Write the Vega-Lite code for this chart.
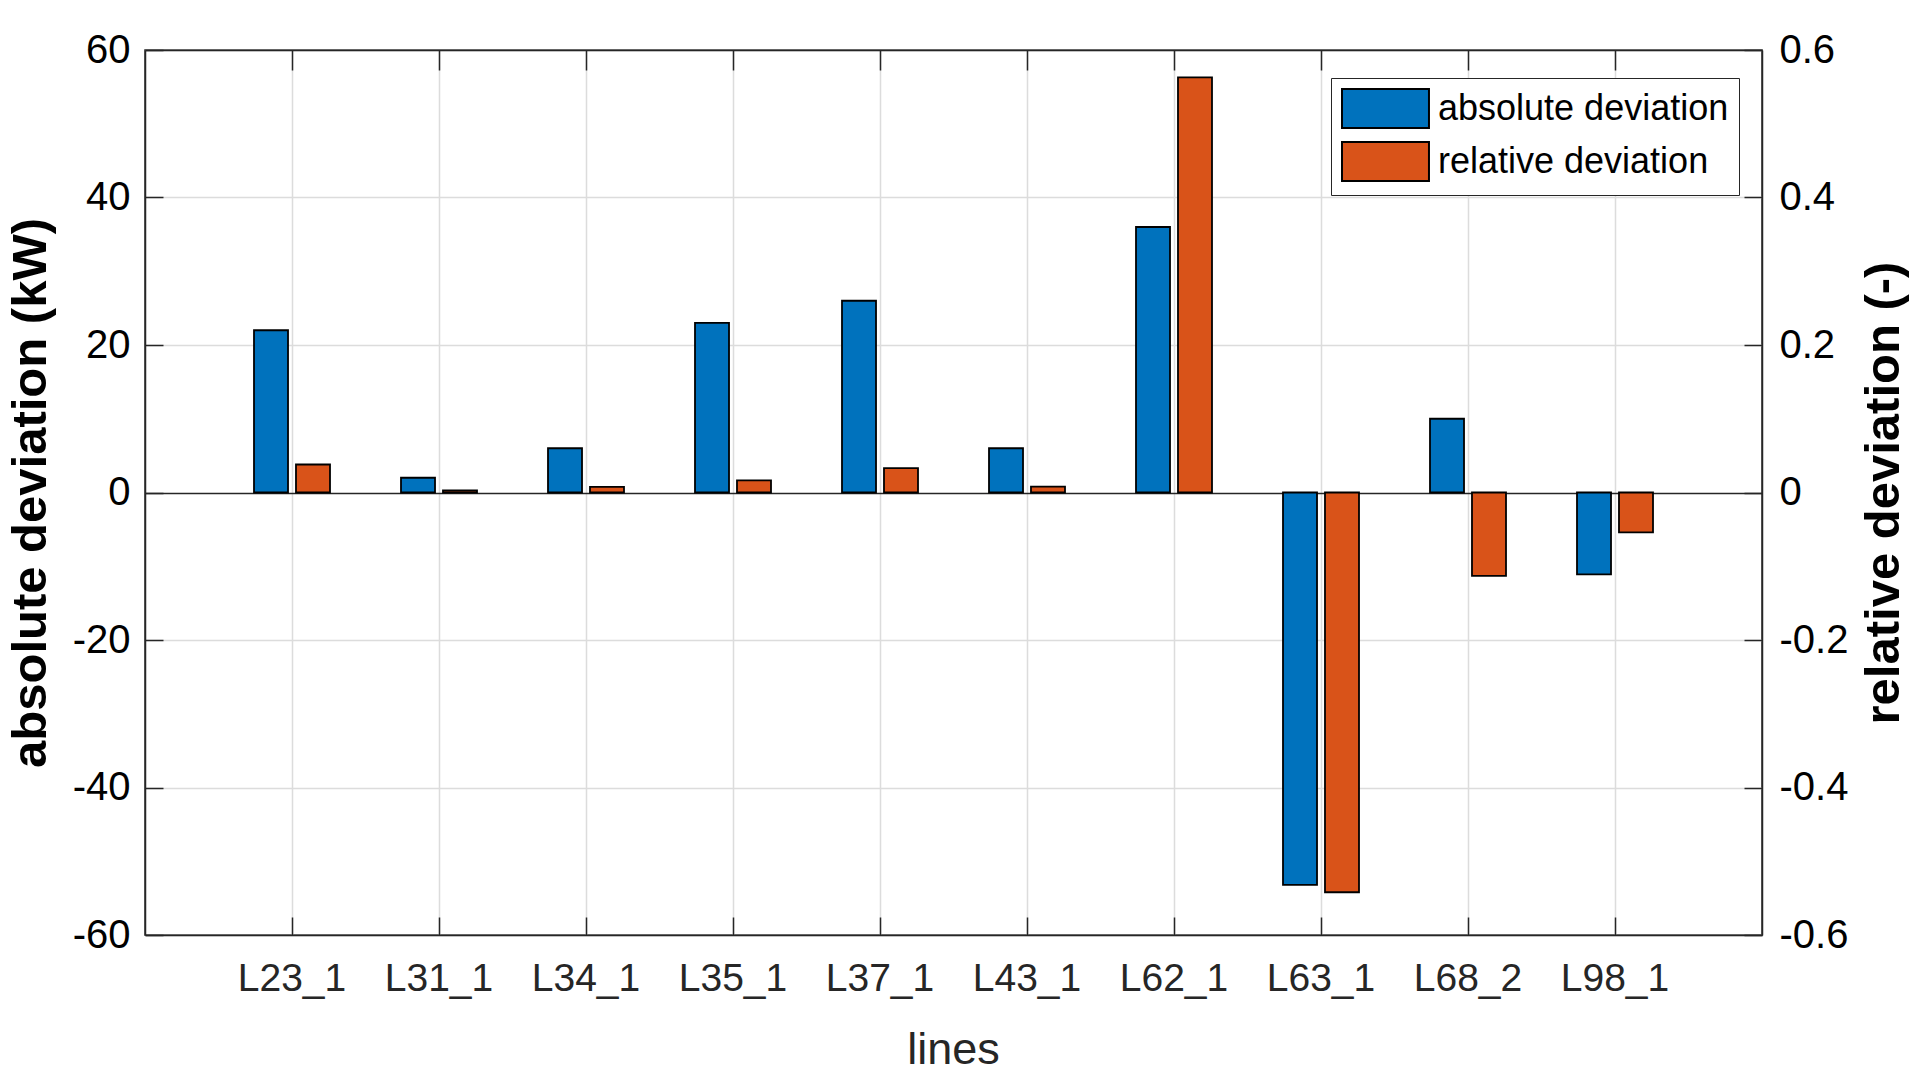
{
  "$schema": "https://vega.github.io/schema/vega-lite/v6.json",
  "width": 1617,
  "height": 885,
  "autosize": "none",
  "padding": {"left": 145, "top": 50, "right": 170, "bottom": 148},
  "background": "white",
  "config": {
    "view": {"stroke": "#262626", "strokeWidth": 1.5},
    "font": "Liberation Sans"
  },
  "data": {
    "values": [
      {"line": "L23_1", "series": "absolute deviation", "value": 22.0},
      {"line": "L31_1", "series": "absolute deviation", "value": 2.0},
      {"line": "L34_1", "series": "absolute deviation", "value": 6.0},
      {"line": "L35_1", "series": "absolute deviation", "value": 23.0},
      {"line": "L37_1", "series": "absolute deviation", "value": 26.0},
      {"line": "L43_1", "series": "absolute deviation", "value": 6.0},
      {"line": "L62_1", "series": "absolute deviation", "value": 36.0},
      {"line": "L63_1", "series": "absolute deviation", "value": -53.2},
      {"line": "L68_2", "series": "absolute deviation", "value": 10.0},
      {"line": "L98_1", "series": "absolute deviation", "value": -11.1},
      {"line": "L23_1", "series": "relative deviation", "value": 0.038},
      {"line": "L31_1", "series": "relative deviation", "value": 0.003},
      {"line": "L34_1", "series": "relative deviation", "value": 0.0076},
      {"line": "L35_1", "series": "relative deviation", "value": 0.0165},
      {"line": "L37_1", "series": "relative deviation", "value": 0.033},
      {"line": "L43_1", "series": "relative deviation", "value": 0.008},
      {"line": "L62_1", "series": "relative deviation", "value": 0.563},
      {"line": "L63_1", "series": "relative deviation", "value": -0.542},
      {"line": "L68_2", "series": "relative deviation", "value": -0.113},
      {"line": "L98_1", "series": "relative deviation", "value": -0.054}
    ]
  },
  "layer": [
    {
      "transform": [{"filter": "datum.series === 'absolute deviation'"}],
      "mark": {"type": "bar", "stroke": "black", "strokeWidth": 1.8},
      "encoding": {
        "x": {
          "field": "line", "type": "nominal", "sort": null,
          "scale": {"paddingInner": 0.483, "paddingOuter": 0.7415},
          "axis": {
            "orient": "bottom",
            "title": "lines",
            "titleFont": "Liberation Sans", "titleFontSize": 45, "titleFontWeight": "normal", "titleColor": "#262626",
            "titleBaseline": "alphabetic", "titleY": 128, "titleX": 808,
            "labelAngle": 0,
            "labelFont": "Liberation Sans", "labelFontSize": 39, "labelColor": "#262626",
            "labelPadding": 42,
            "tickSize": -18, "tickColor": "#262626", "tickWidth": 1.5,
            "bandPosition": 0.5,
            "domainColor": "#262626", "domainWidth": 1.5,
            "grid": true, "gridColor": "#dcdcdc", "gridWidth": 1.5
          }
        },
        "xOffset": {
          "field": "series", "type": "nominal",
          "scale": {"domain": ["absolute deviation", "relative deviation"], "paddingInner": 0.19, "paddingOuter": 0}
        },
        "y": {
          "field": "value", "type": "quantitative",
          "scale": {"domain": [-60, 60], "nice": false, "zero": false},
          "axis": {
            "orient": "left",
            "title": "absolute deviation (kW)",
            "titleFont": "Liberation Sans", "titleFontSize": 49, "titleFontWeight": "bold", "titleColor": "black",
            "titleAngle": 270, "titleBaseline": "alphabetic", "titleAlign": "center",
            "titleX": -100, "titleY": 442.5,
            "values": [-60, -40, -20, 0, 20, 40, 60],
            "labelExpr": "datum.value < 0 ? '-' + format(-datum.value, 'd') : format(datum.value, 'd')",
            "labelFont": "Liberation Sans", "labelFontSize": 40, "labelColor": "black",
            "labelPadding": 33,
            "tickSize": -18, "tickColor": "#262626", "tickWidth": 1.5,
            "domainColor": "#262626", "domainWidth": 1.5,
            "grid": true,
            "gridColor": {"condition": {"test": "datum.value === 0", "value": "#262626"}, "value": "#dcdcdc"},
            "gridWidth": 1.5
          }
        },
        "color": {
          "field": "series", "type": "nominal",
          "scale": {"domain": ["absolute deviation", "relative deviation"], "range": ["#0072BD", "#D95319"]},
          "legend": {
            "title": null,
            "orient": "none", "legendX": 1186, "legendY": 28,
            "direction": "vertical",
            "strokeColor": "#262626", "fillColor": "white", "padding": 10,
            "symbolType": "M-1,-1L3.46,-1L3.46,1L-1,1Z",
            "symbolSize": 1521,
            "symbolStrokeColor": "black", "symbolStrokeWidth": 2, "symbolOpacity": 1,
            "labelFont": "Liberation Sans", "labelFontSize": 36, "labelColor": "black",
            "labelOffset": 56, "rowPadding": 6, "labelLimit": 400
          }
        }
      }
    },
    {
      "transform": [{"filter": "datum.series === 'relative deviation'"}],
      "mark": {"type": "bar", "stroke": "black", "strokeWidth": 1.8},
      "encoding": {
        "x": {
          "field": "line", "type": "nominal", "sort": null,
          "axis": {
            "orient": "top", "title": null, "labels": false, "grid": false,
            "tickSize": -20, "tickColor": "#262626", "tickWidth": 1.5, "bandPosition": 0.5,
            "domainColor": "#262626", "domainWidth": 1.5
          }
        },
        "xOffset": {"field": "series", "type": "nominal"},
        "y": {
          "field": "value", "type": "quantitative",
          "scale": {"domain": [-0.6, 0.6], "nice": false, "zero": false},
          "axis": {
            "orient": "right",
            "title": "relative deviation (-)",
            "titleFont": "Liberation Sans", "titleFontSize": 49, "titleFontWeight": "bold", "titleColor": "black",
            "titleAngle": 270, "titleBaseline": "alphabetic", "titleAlign": "center",
            "titleX": 136, "titleY": 442.5,
            "values": [-0.6, -0.4, -0.2, 0, 0.2, 0.4, 0.6],
            "labelExpr": "datum.value === 0 ? '0' : (datum.value < 0 ? '-' + format(-datum.value, '.1f') : format(datum.value, '.1f'))",
            "labelFont": "Liberation Sans", "labelFontSize": 40, "labelColor": "black",
            "labelPadding": 35,
            "tickSize": -18, "tickColor": "#262626", "tickWidth": 1.5,
            "domainColor": "#262626", "domainWidth": 1.5,
            "grid": false
          }
        },
        "color": {"field": "series", "type": "nominal"}
      }
    }
  ],
  "resolve": {"scale": {"y": "independent"}, "axis": {"x": "independent"}}
}
